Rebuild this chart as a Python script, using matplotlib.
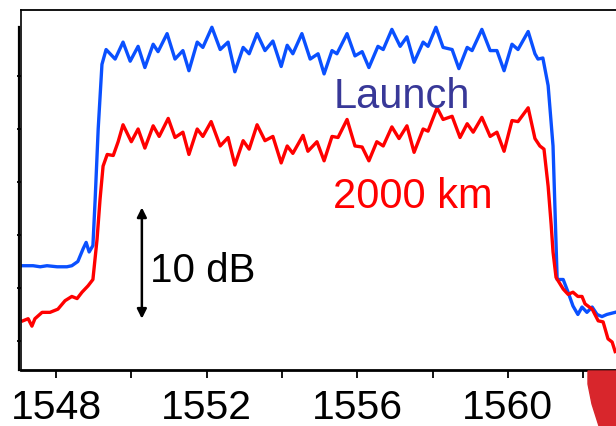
import numpy as np
import matplotlib.pyplot as plt
from matplotlib.patches import Polygon
from matplotlib.lines import Line2D

plt.rcParams['font.family'] = ['Liberation Sans', 'DejaVu Sans']

# Espectro de lanzamiento (longitud de onda en nm, potencia en dB)
launch_wl = [1547.12, 1547.39, 1547.58, 1547.76, 1548.03, 1548.29, 1548.42, 1548.58,
             1548.72, 1548.80, 1548.88, 1548.98, 1549.04, 1549.12, 1549.22, 1549.33,
             1549.57, 1549.78, 1549.97, 1550.18, 1550.36, 1550.58, 1550.71, 1550.95,
             1551.16, 1551.37, 1551.53, 1551.75, 1551.90, 1552.14, 1552.36, 1552.57,
             1552.75, 1552.97, 1553.13, 1553.34, 1553.55, 1553.76, 1553.98, 1554.14,
             1554.29, 1554.53, 1554.75, 1554.96, 1555.12, 1555.33, 1555.46, 1555.73,
             1555.94, 1556.13, 1556.31, 1556.55, 1556.69, 1556.92, 1557.14, 1557.32,
             1557.51, 1557.75, 1557.88, 1558.09, 1558.28, 1558.52, 1558.70, 1558.92,
             1559.05, 1559.31, 1559.53, 1559.71, 1559.90, 1560.11, 1560.27, 1560.54,
             1560.72, 1560.80, 1560.93, 1561.07, 1561.20, 1561.26, 1561.31, 1561.47,
             1561.60, 1561.73, 1561.86, 1561.97, 1562.10, 1562.24, 1562.37, 1562.50,
             1562.63, 1562.85]
launch_db = [-42.9, -42.9, -43.0, -42.9, -43.0, -43.0, -42.9, -42.5,
             -41.3, -40.7, -41.6, -41.0, -36.6, -30.0, -23.9, -22.5,
             -23.4, -21.8, -23.6, -22.2, -24.2, -22.0, -22.7, -21.0,
             -23.4, -22.6, -24.5, -21.8, -22.3, -20.4, -22.5, -21.8,
             -24.6, -22.3, -22.9, -21.0, -22.6, -21.7, -24.1, -22.1,
             -22.9, -21.0, -23.4, -22.9, -24.8, -22.6, -22.9, -21.0,
             -23.1, -22.7, -24.2, -22.2, -22.5, -20.6, -22.2, -21.3,
             -23.7, -21.8, -22.2, -20.4, -22.3, -22.5, -24.3, -22.3,
             -22.6, -20.6, -22.6, -22.6, -24.5, -22.0, -22.5, -20.8,
             -22.9, -23.4, -23.3, -25.9, -31.6, -38.5, -44.2, -44.2,
             -45.4, -46.7, -47.5, -46.8, -47.3, -46.8, -47.5, -47.7,
             -47.5, -47.3]

# Espectro tras 2000 km
km2000_wl = [1547.12, 1547.26, 1547.36, 1547.44, 1547.63, 1547.84, 1548.05, 1548.24,
             1548.42, 1548.56, 1548.69, 1548.85, 1548.98, 1549.09, 1549.17, 1549.25,
             1549.36, 1549.52, 1549.65, 1549.78, 1550.00, 1550.18, 1550.36, 1550.58,
             1550.74, 1550.98, 1551.16, 1551.37, 1551.53, 1551.75, 1551.90, 1552.12,
             1552.36, 1552.57, 1552.75, 1552.97, 1553.13, 1553.34, 1553.55, 1553.76,
             1553.98, 1554.14, 1554.29, 1554.56, 1554.69, 1554.93, 1555.12, 1555.33,
             1555.49, 1555.73, 1555.94, 1556.13, 1556.31, 1556.52, 1556.69, 1556.92,
             1557.11, 1557.32, 1557.51, 1557.75, 1557.88, 1558.12, 1558.28, 1558.52,
             1558.73, 1558.92, 1559.08, 1559.31, 1559.53, 1559.71, 1559.90, 1560.11,
             1560.27, 1560.54, 1560.72, 1560.85, 1560.96, 1561.07, 1561.15, 1561.20,
             1561.28, 1561.47, 1561.60, 1561.73, 1561.86, 1561.97, 1562.05, 1562.24,
             1562.40, 1562.53, 1562.66, 1562.77, 1562.85]
km2000_db = [-48.1, -47.9, -48.6, -47.9, -47.3, -47.3, -47.0, -46.2,
             -45.8, -46.0, -45.4, -44.8, -44.2, -40.4, -36.6, -33.5,
             -32.4, -32.5, -31.2, -29.6, -31.2, -30.0, -31.8, -29.7,
             -30.7, -29.0, -30.8, -30.3, -32.4, -30.0, -30.7, -29.3,
             -31.6, -30.8, -33.4, -31.1, -31.9, -29.6, -31.1, -30.7,
             -33.2, -31.6, -32.3, -30.6, -32.1, -31.2, -33.0, -30.7,
             -30.8, -29.1, -31.6, -31.7, -33.0, -31.2, -31.6, -29.8,
             -30.9, -29.7, -32.2, -30.0, -30.2, -28.0, -29.1, -28.8,
             -30.8, -29.5, -30.3, -28.9, -30.7, -30.3, -32.1, -29.2,
             -29.3, -28.0, -30.9, -31.6, -31.9, -35.4, -39.0, -41.6,
             -44.0, -45.1, -45.6, -45.4, -45.8, -45.8, -46.5, -47.0,
             -48.1, -48.2, -49.8, -50.1, -51.0]

xticks = [1548, 1552, 1556, 1560]
xminor = [1550, 1554, 1558, 1562]
yticks = [-50, -45, -40, -35, -30, -25]

W, H = 616, 427
fig = plt.figure(figsize=(W / 100, H / 100), dpi=100)
ax = fig.add_axes([21 / W, (H - 371) / H, (640 - 21) / W, 360 / H])

ax.plot(launch_wl, launch_db, color='#0a50ff', lw=2.4, solid_joinstyle='round')
ax.plot(km2000_wl, km2000_db, color='#ff0000', lw=2.4, solid_joinstyle='round')

ax.set_xlim(1547.07, 1563.51)
ax.set_ylim(-52.74, -18.77)

ax.set_xticks(xticks + xminor)
ax.set_xticklabels([str(t) for t in xticks] + [''] * len(xminor))
ax.set_yticks(yticks)
ax.set_yticklabels([])
ax.tick_params(axis='x', direction='out', length=6, width=1.3, labelsize=29.5, pad=7)
ax.tick_params(axis='y', direction='out', length=3, width=1.3)

for s in ['top', 'right']:
    ax.spines[s].set_linewidth(1.3)
ax.spines['left'].set_linewidth(1.2)
ax.spines['bottom'].set_linewidth(2.0)

# segundo trazo del eje izquierdo, algo desplazado
ax.add_line(Line2D([-0.0035, -0.0035], [0, (371 - 28) / 360], transform=ax.transAxes,
                   color='black', lw=1.6, clip_on=False))

ax.text(1555.36, -27.9, 'Launch', color='#383898', fontsize=30, va='baseline')
ax.text(1555.36, -37.4, '2000 km', color='#ff0000', fontsize=30, va='baseline')
ax.text(1550.50, -44.3, '10 dB', color='black', fontsize=29, va='baseline')
ax.annotate('', xy=(1550.28, -37.4), xytext=(1550.28, -47.9),
            arrowprops=dict(arrowstyle='<|-|>', color='black', lw=1.8, mutation_scale=14,
                            shrinkA=0, shrinkB=0))

# mancha roja en la esquina
blob = [(588, 372), (616, 372), (616, 427), (599, 427), (592, 405), (588, 385)]
fig.patches.append(Polygon([(x / W, 1 - y / H) for x, y in blob], closed=True,
                           transform=fig.transFigure, color='#d8262c', zorder=0))

fig.savefig('out.png', dpi=100)
